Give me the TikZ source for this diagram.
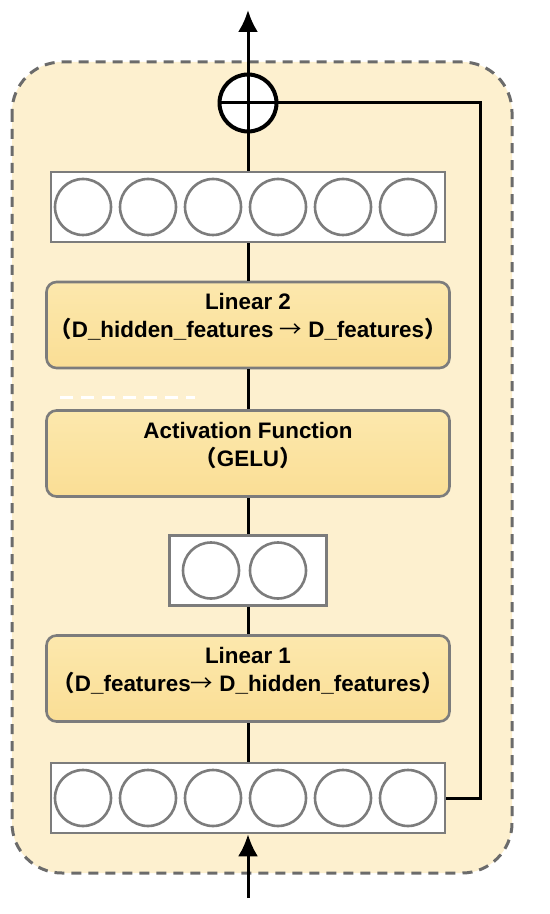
\documentclass[tikz,border=0pt]{standalone}
\usepackage{fontspec}
\setmainfont{Liberation Sans}
\newfontfamily\cjk{Noto Sans CJK SC}
\usepackage{tikz}
\usetikzlibrary{calc,arrows.meta}
\usetikzlibrary{positioning}
\definecolor{ffn-bg}{HTML}{FDF0CF}
\definecolor{ffn-dash}{HTML}{6B6B6B}
\definecolor{ffn-gray}{HTML}{7C7C7C}
\definecolor{ffn-box}{HTML}{FADE95}
\definecolor{ffn-boxtop}{HTML}{FCE8AD}
\newcommand{\lpar}{{\cjk （}}
\newcommand{\rpar}{{\cjk ）}}
\newcommand{\arr}{{\cjk\mdseries →}}

\begin{document}
\begin{tikzpicture}[x=0.5pt, y=-0.5pt, >={Latex[length=11pt,width=10pt]},
    layerbox/.style={draw=ffn-gray, line width=1.3pt, rounded corners=5pt,
        top color=ffn-boxtop, bottom color=ffn-box,
        minimum width=201.5pt, minimum height=43pt, inner sep=0pt},
    layertext/.style={font=\fontsize{11.2}{14}\selectfont\bfseries, align=center, inner sep=0pt},
    vecbox/.style={draw=ffn-gray, line width=1.3pt, fill=white, inner sep=0pt, minimum height=35pt},
    unit/.style={circle, draw=ffn-gray, line width=1.3pt, fill=white, minimum size=28pt, inner sep=0pt},
    flow/.style={line width=1.5pt, black}]
        \useasboundingbox (0,0) rectangle (550,914);
        % outer block
        \draw[ffn-dash, fill=ffn-bg, line width=1.5pt, dash pattern=on 5pt off 3.5pt, rounded corners=25pt]
            (12,62) rectangle (512,873);
        \draw[white, line width=1.5pt, dash pattern=on 6.5pt off 4pt] (60,397) -- (195,397);
        % vectors
        \node[vecbox, minimum width=197pt] (vtop) at (248,207) {};
        \foreach \i in {1,...,6}
            \node[unit] (t\i) at ({245.5+65*(\i-3.5)},207) {};
        \node[vecbox, minimum width=78.5pt] (vmid) at (248,570.5) {};
        \node[unit] (m1) at (211,570.5) {};
        \node[unit] (m2) at (278,570.5) {};
        \node[vecbox, minimum width=197pt] (vbot) at (248,798) {};
        \foreach \i in {1,...,6}
            \node[unit] (b\i) at ({245.5+65*(\i-3.5)},798) {};
        % layers
        \node[layerbox] (lin2) at (248,325) {};
        \node[layertext, yshift=4pt] (lin2txt) at (lin2.center) {Linear 2\\\lpar D\_hidden\_features \arr{} D\_features\rpar};
        \node[layerbox] (act) at (248,453.5) {};
        \node[layertext, yshift=4pt] (acttxt) at (act.center) {Activation Function\\\lpar GELU\rpar};
        \node[layerbox] (lin1) at (248,678.5) {};
        \node[layertext, yshift=4pt] (lin1txt) at (lin1.center) {Linear 1\\\lpar D\_features\arr{} D\_hidden\_features\rpar};
        % adder
        \node[circle, draw, line width=2pt, fill=white, minimum size=28.5pt, inner sep=0pt] (plus) at (248,103) {};
        \coordinate (out) at (248,10);
        \coordinate (in) at (248,898);
        \coordinate (skip) at (480,103);
        % connectors
        \draw[flow] (vbot.north) -- (lin1.south);
        \draw[flow] (lin1.north) -- (vmid.south);
        \draw[flow] (vmid.north) -- (act.south);
        \draw[flow] (act.north) -- (lin2.south);
        \draw[flow] (lin2.north) -- (vtop.south);
        \draw[flow, ->] (vtop.north) -- (out);
        \draw[flow] (plus.west) -- (plus.east) -- (skip) |- (vbot.east);
        \draw[flow, ->] (in) -- (vbot.south);
    \end{tikzpicture}
\end{document}
